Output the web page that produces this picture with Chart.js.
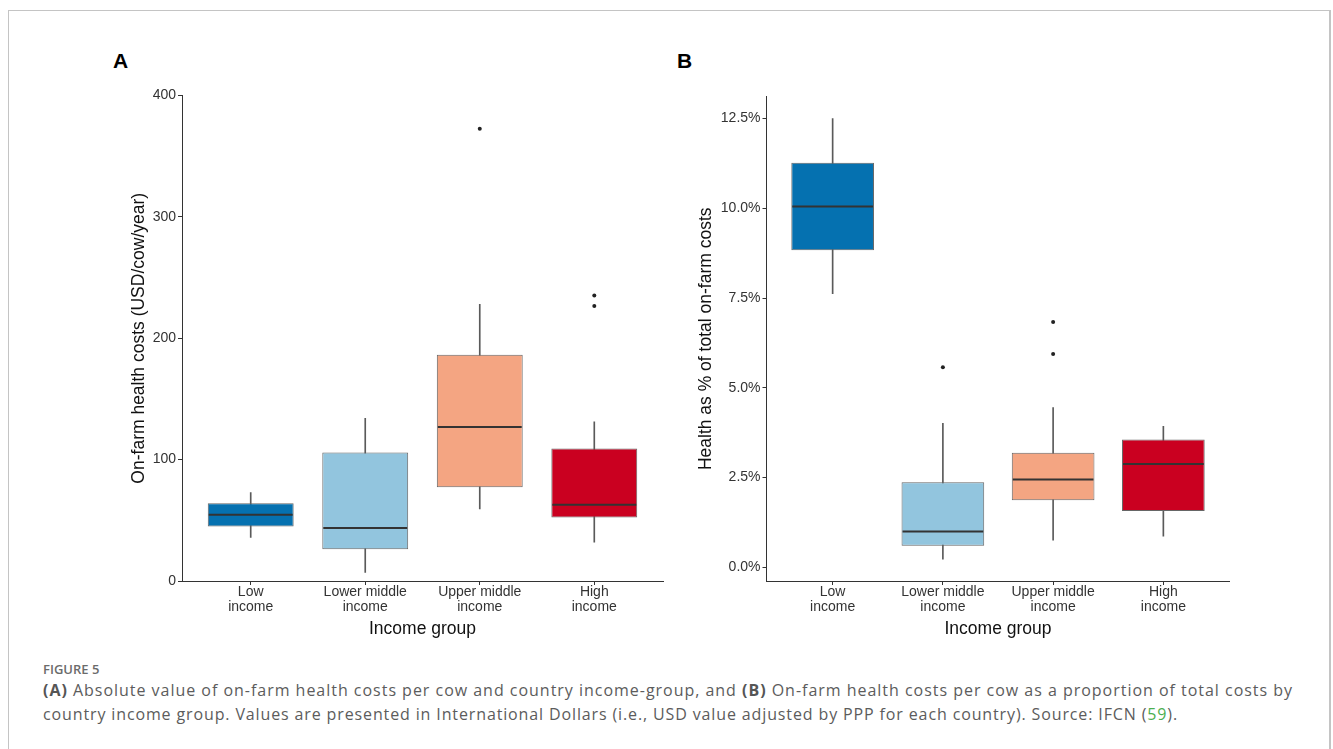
<!DOCTYPE html>
<html>
<head>
<meta charset="utf-8">
<script src="https://cdn.jsdelivr.net/npm/chart.js@4.4.1/dist/chart.umd.min.js"></script>
<style>
  body { margin: 0; background: #fff; width: 1333px; height: 749px; overflow: hidden; position: relative; }
  .frame { position: absolute; left: 8px; top: 10px; width: 1320px; height: 760px; border: 1px solid #c4c4c4; border-right-width: 2px; border-bottom: none; }
  .letter { position: absolute; top: 50px; font: bold 21px/21px "Liberation Sans", Arial, sans-serif; color: #000; }
  .chart-box { position: absolute; top: 40px; width: 580px; height: 602px; }
  .caption-head { position: absolute; left: 43px; top: 661px; font: 600 13px/16px "Open Sans", sans-serif; color: #6b6b6b; }
  .caption { position: absolute; left: 43px; top: 678px; font: 16px/24px "Open Sans", sans-serif; color: #5c5c5c; white-space: nowrap; }
  .caption .line { display: inline-block; }
  .caption b { font-weight: 700; color: #555; }
  .caption .ref { color: #4caf50; }
</style>
</head>
<body>
<div class="frame"></div>
<div class="letter" style="left:113px">A</div>
<div class="letter" style="left:677px">B</div>
<div class="chart-box" style="left:100px"><canvas id="chartA"></canvas></div>
<div class="chart-box" style="left:670px"><canvas id="chartB"></canvas></div>
<div class="caption-head">FIGURE 5</div>
<div class="caption">
  <span class="line" data-width="1250"><b>(A)</b> Absolute value of on-farm health costs per cow and country income-group, and <b>(B)</b> On-farm health costs per cow as a proportion of total costs by</span><br>
  <span class="line" data-width="1135">country income group. Values are presented in International Dollars (i.e., USD value adjusted by PPP for each country). Source: IFCN (<span class="ref">59</span>).</span>
</div>
<script>
  // 소득 그룹 (x축)
  const categories = [
    ["Low", "income"],
    ["Lower middle", "income"],
    ["Upper middle", "income"],
    ["High", "income"],
  ];
  const boxColors = ["#0571b0", "#92c5de", "#f4a582", "#ca0020"];

  // A: USD/cow/year
  const costLow = [36, 7, 59.3, 31.9];
  const costQ1 = [45, 26.2, 77.2, 52.4];
  const costMedian = [54.6, 43.6, 126.8, 62.8];
  const costQ3 = [64, 105.9, 186.4, 109.1];
  const costHigh = [72.9, 134, 228, 131.2];
  const costOutliers = [[], [], [372.6], [235.3, 226.5]];
  const costTicks = [0, 100, 200, 300, 400];

  // B: health as % of total on-farm costs
  const shareLow = [7.62, 0.23, 0.76, 0.87];
  const shareQ1 = [8.83, 0.6, 1.87, 1.57];
  const shareMedian = [10.05, 1.0, 2.45, 2.88];
  const shareQ3 = [11.27, 2.37, 3.19, 3.56];
  const shareHigh = [12.5, 4.01, 4.45, 3.93];
  const shareOutliers = [[], [5.57], [6.83, 5.94], []];
  const shareTicks = [0, 2.5, 5, 7.5, 10, 12.5];

  const fontFamily = '"Liberation Sans", Arial, sans-serif';

  // 중앙값 선 (박스 데이터셋 위에 그림)
  const medianLine = {
    id: "medianLine",
    afterDatasetsDraw(chart, args, opts) {
      const meta = chart.getDatasetMeta(1);
      const yScale = chart.scales.y;
      const ctx = chart.ctx;
      ctx.save();
      ctx.strokeStyle = "#333";
      ctx.lineWidth = 2;
      meta.data.forEach((bar, i) => {
        const py = yScale.getPixelForValue(opts.values[i]);
        ctx.beginPath();
        ctx.moveTo(bar.x - bar.width / 2 + 1, py);
        ctx.lineTo(bar.x + bar.width / 2 - 1, py);
        ctx.stroke();
      });
      ctx.restore();
    },
  };

  const drawBoxChart = (id, s) => {
    const outlierPoints = [];
    s.outliers.forEach((list, i) =>
      list.forEach((v) => outlierPoints.push({ x: i + 1, y: v }))
    );

    new Chart(document.getElementById(id), {
      type: "bar",
      data: {
        datasets: [
          {
            // whiskers
            data: s.lo.map((v, i) => ({ x: i + 1, y: [v, s.hi[i]] })),
            backgroundColor: "#5a5a5a",
            barThickness: 1,
            grouped: false,
            order: 3,
          },
          {
            // boxes
            data: s.q1.map((v, i) => ({ x: i + 1, y: [v, s.q3[i]] })),
            backgroundColor: boxColors,
            borderColor: "#666",
            borderWidth: 1,
            borderSkipped: false,
            barPercentage: 0.75,
            categoryPercentage: 1,
            grouped: false,
            order: 2,
          },
          {
            type: "scatter",
            data: outlierPoints,
            pointRadius: 2,
            pointBackgroundColor: "#222",
            pointBorderWidth: 0,
            order: 1,
          },
        ],
      },
      options: {
        responsive: true,
        maintainAspectRatio: false,
        animation: false,
        events: [],
        layout: { padding: { left: 0, top: s.padTop, right: s.padRight, bottom: 0 } },
        plugins: {
          legend: { display: false },
          tooltip: { enabled: false },
          medianLine: { values: s.median },
        },
        scales: {
          x: {
            type: "linear",
            min: 0.4,
            max: 4.6,
            offset: false,
            afterBuildTicks: (sc) => {
              sc.ticks = categories.map((c, i) => ({ value: i + 1 }));
            },
            afterFit: (sc) => {
              sc.height = 61;
              sc.paddingLeft = 0;
              sc.paddingRight = 0;
            },
            grid: { offset: false, drawOnChartArea: false, tickLength: 4, tickColor: "#333" },
            border: { display: true, color: "#333", width: 1 },
            ticks: {
              color: "#333",
              padding: -1,
              maxRotation: 0,
              autoSkip: false,
              font: { family: fontFamily, size: 14, lineHeight: 1.1 },
              callback: (v) => categories[v - 1],
            },
            title: {
              display: true,
              text: "Income group",
              color: "#111",
              font: { family: fontFamily, size: 17.5 },
              padding: { top: 0, bottom: 2 },
            },
          },
          y: {
            min: s.min,
            max: s.max,
            afterBuildTicks: (sc) => {
              sc.ticks = s.ticks.map((v) => ({ value: v }));
            },
            afterFit: (sc) => {
              sc.width = s.yAxisWidth;
              sc.paddingTop = 0;
              sc.paddingBottom = 0;
            },
            grid: { drawOnChartArea: false, tickLength: 4, tickColor: "#333" },
            border: { display: true, color: "#333", width: 1 },
            ticks: {
              color: "#333",
              padding: 2,
              font: { family: fontFamily, size: 14 },
              callback: s.format,
            },
            title: {
              display: true,
              text: s.title,
              color: "#111",
              font: { family: fontFamily, size: 17.5 },
              padding: { top: s.titlePad, bottom: 0 },
            },
          },
        },
      },
      plugins: [medianLine],
    });
  };

  drawBoxChart("chartA", {
    lo: costLow, q1: costQ1, median: costMedian, q3: costQ3, hi: costHigh,
    outliers: costOutliers, ticks: costTicks,
    min: 0, max: 400,
    format: (v) => String(v),
    title: "On-farm health costs (USD/cow/year)",
    padTop: 55.5, padRight: 17, yAxisWidth: 82, titlePad: 29,
  });

  drawBoxChart("chartB", {
    lo: shareLow, q1: shareQ1, median: shareMedian, q3: shareQ3, hi: shareHigh,
    outliers: shareOutliers, ticks: shareTicks,
    min: -0.38, max: 13.11,
    format: (v) => v.toFixed(1) + "%",
    title: "Health as % of total on-farm costs",
    padTop: 56.6, padRight: 20.5, yAxisWidth: 96.5, titlePad: 26,
  });

  // 캡션 줄 길이를 원본 폭에 맞춤
  document.querySelectorAll(".caption .line").forEach((el) => {
    const target = Number(el.dataset.width);
    const w = el.getBoundingClientRect().width;
    el.style.letterSpacing = (target - w) / el.textContent.length + "px";
  });
</script>
</body>
</html>
